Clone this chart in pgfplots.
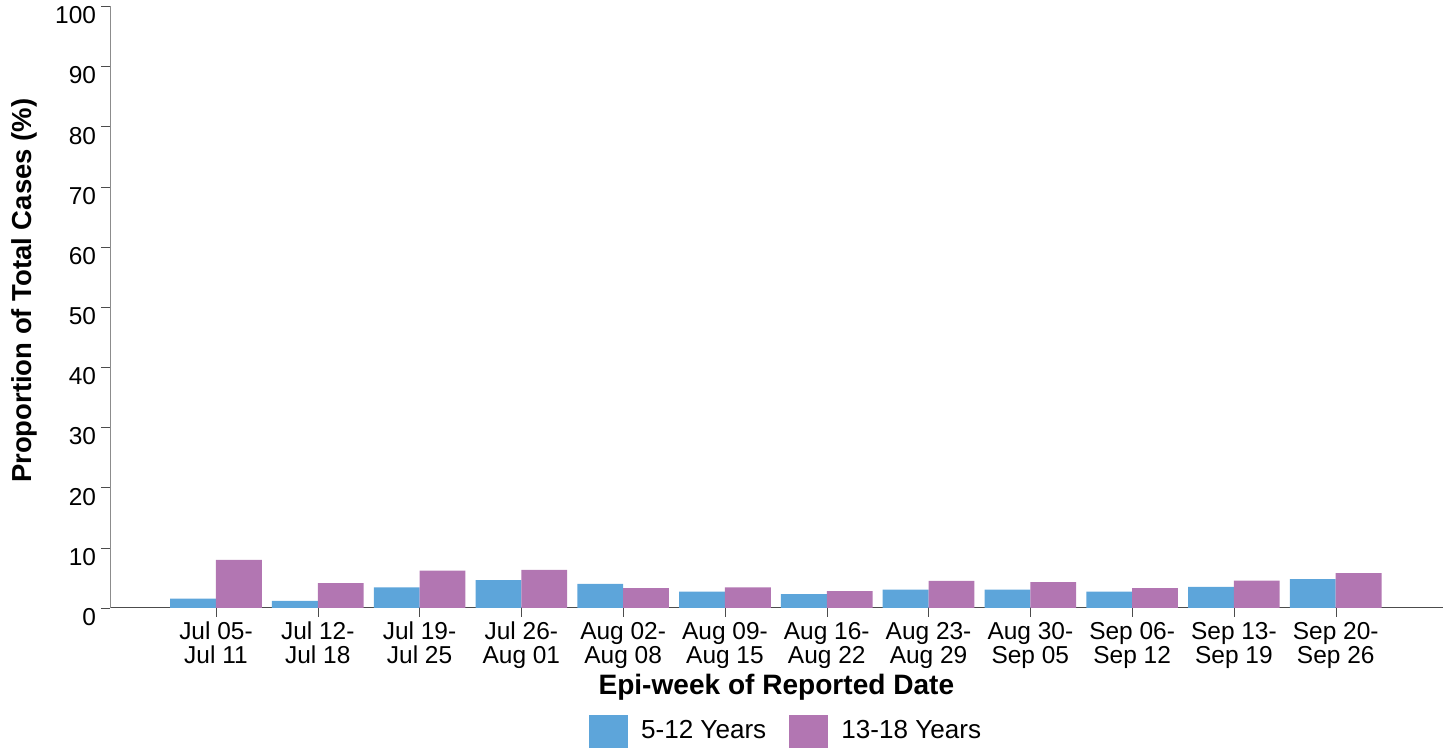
\documentclass[border=0pt]{standalone}
\usepackage{fontspec}
\setmainfont{Liberation Sans}
\usepackage{pgfplots}
\pgfplotsset{compat=1.18}
\definecolor{agea}{HTML}{5DA5DA}
\definecolor{ageb}{HTML}{B276B2}
\begin{document}
\begin{tikzpicture}
\begin{axis}[
  scale only axis, width=664.5pt, height=300pt,
  ybar=0pt, bar width=0.45,
  xmin=-1.04, xmax=12.05, ymin=0, ymax=100,
  ytick={0,10,...,100},
  xtick={0,...,11},
  xticklabels={{Jul 05-\\Jul 11},{Jul 12-\\Jul 18},{Jul 19-\\Jul 25},{Jul 26-\\Aug 01},
    {Aug 02-\\Aug 08},{Aug 09-\\Aug 15},{Aug 16-\\Aug 22},{Aug 23-\\Aug 29},
    {Aug 30-\\Sep 05},{Sep 06-\\Sep 12},{Sep 13-\\Sep 19},{Sep 20-\\Sep 26}},
  xticklabel style={align=center, font=\fontsize{12.2}{12}\selectfont, yshift=1pt},
  yticklabel style={font=\fontsize{12.2}{13}\selectfont, yshift=-4.5pt, xshift=1pt},
  /pgf/number format/assume math mode=true,
  axis x line*=bottom, axis y line*=left,
  x axis line style={draw=black!70, -}, y axis line style={draw=black!45, -},
  tick align=outside, major tick length=4.5pt,
  x tick style={draw=black!70}, y tick style={draw=black!70},
  xlabel={Epi-week of Reported Date},
  xlabel style={at={(axis description cs:0.5,-0.132)}, anchor=center, font=\fontsize{14}{16}\selectfont\bfseries},
  ylabel={Proportion of Total Cases (\%)},
  ylabel style={at={(axis description cs:-0.064,0.527)}, anchor=center, inner ysep=6pt,
    font=\fontsize{13.7}{15}\selectfont\bfseries},
  legend columns=2,
  legend style={at={(axis description cs:0.508,-0.205)}, anchor=center, draw=none,
    font=\fontsize{13}{14}\selectfont,
    /tikz/every even column/.append style={column sep=9.5pt},
    /tikz/every odd column/.append style={column sep=4.5pt}},
  legend image code/.code={\fill[#1] (0pt,-8.25pt) rectangle (19.5pt,8.25pt);},
]
\addplot[fill=agea, draw=none] coordinates {
(0,1.55)(1,1.17)(2,3.4)(3,4.6)(4,4.0)(5,2.7)(6,2.3)(7,3.05)(8,3.05)(9,2.7)(10,3.5)(11,4.8)};
\addplot[fill=ageb, draw=none] coordinates {
(0,8.0)(1,4.1)(2,6.2)(3,6.3)(4,3.3)(5,3.4)(6,2.8)(7,4.5)(8,4.3)(9,3.3)(10,4.55)(11,5.8)};
\legend{5-12 Years, 13-18 Years}
\end{axis}
\end{tikzpicture}
\end{document}
